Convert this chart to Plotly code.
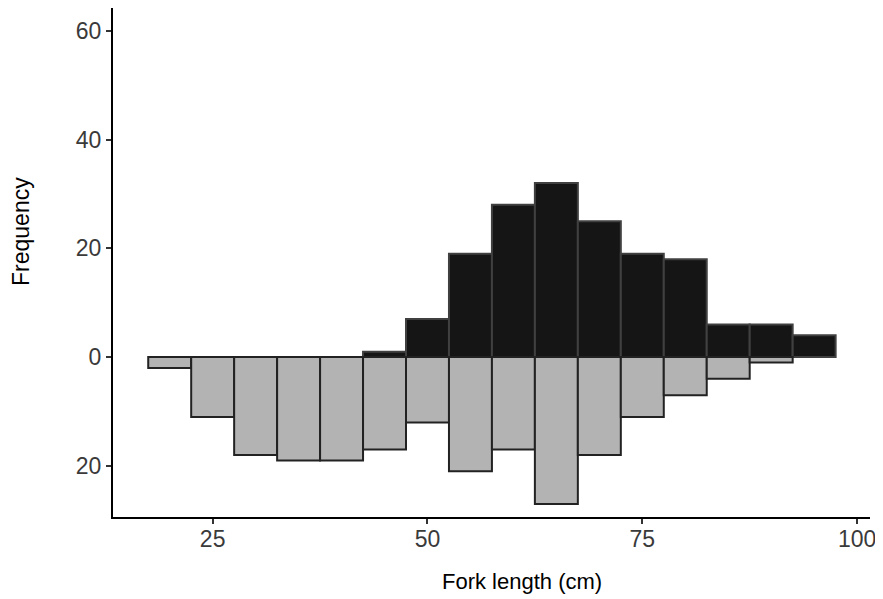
import plotly.graph_objects as go

bin_centers = [20, 25, 30, 35, 40, 45, 50, 55, 60, 65, 70, 75, 80, 85, 90, 95]
upper_counts = [0, 0, 0, 0, 0, 1, 7, 19, 28, 32, 25, 19, 18, 6, 6, 4]
lower_counts = [2, 11, 18, 19, 19, 17, 12, 21, 17, 27, 18, 11, 7, 4, 1, 0]
y_tick_vals = [-20, 0, 20, 40, 60]
y_tick_text = ["20", "0", "20", "40", "60"]
x_tick_vals = [25, 50, 75, 100]
x_title = "Fork length (cm)"
y_title = "Frequency"

font_family = "Liberation Sans, Arial, sans-serif"

fig = go.Figure()
fig.add_trace(go.Bar(
    x=bin_centers,
    y=[v if v else None for v in upper_counts],
    width=5,
    marker=dict(color="#151515", line=dict(color="#404040", width=2)),
    showlegend=False,
))
fig.add_trace(go.Bar(
    x=bin_centers,
    y=[-v if v else None for v in lower_counts],
    width=5,
    marker=dict(color="#b3b3b3", line=dict(color="#222222", width=2)),
    showlegend=False,
))

# page body has an 8px margin; size the figure to fit the window
fig.update_layout(
    barmode="overlay",
    width=875, height=591,
    margin=dict(l=105, r=13, t=0, b=82, autoexpand=False),
    plot_bgcolor="white", paper_bgcolor="white",
    font=dict(family=font_family, color="#3a3a3a"),
    xaxis=dict(
        range=[13.4, 101.5], tickvals=x_tick_vals,
        showgrid=False, zeroline=False,
        showline=True, linecolor="black", linewidth=2,
        ticks="outside", ticklen=5, tickwidth=1.5, tickcolor="#333333",
        tickfont=dict(size=23, color="#3a3a3a"),
        ticklabelstandoff=-5,
    ),
    yaxis=dict(
        range=[-29.4, 64.2], tickvals=y_tick_vals, ticktext=y_tick_text,
        showgrid=False, zeroline=False,
        showline=True, linecolor="black", linewidth=2,
        ticks="outside", ticklen=5, tickwidth=1.5, tickcolor="#333333",
        tickfont=dict(size=23, color="#3a3a3a"),
    ),
    annotations=[
        dict(text=x_title, xref="paper", yref="paper", x=0.540, y=0,
             xanchor="center", yanchor="middle", yshift=-64, showarrow=False,
             font=dict(size=22, color="black")),
        dict(text=y_title, xref="paper", yref="paper", x=0, y=0.56,
             xanchor="center", yanchor="middle", xshift=-92, showarrow=False,
             textangle=-90, font=dict(size=23, color="black")),
    ],
)

fig.write_html("out.html")
